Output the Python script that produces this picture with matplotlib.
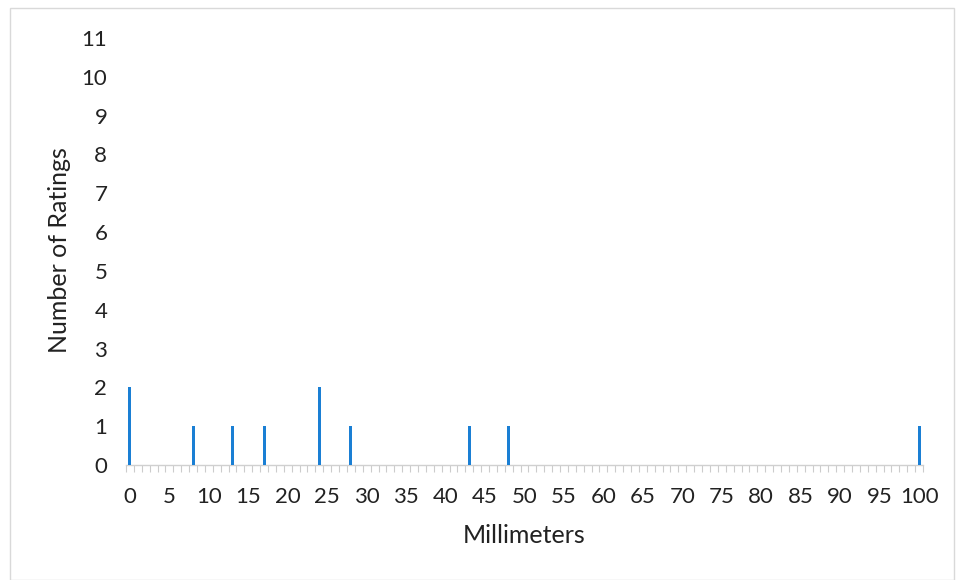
import matplotlib
matplotlib.use("Agg")
import matplotlib.pyplot as plt
from matplotlib.patches import Rectangle
import numpy as np

# Data
millimeters = [0, 8, 13, 17, 24, 28, 43, 48, 100]
ratings = [2, 1, 1, 1, 2, 1, 1, 1, 1]
x_tick_labels = [str(v) for v in range(0, 101, 5)]
y_tick_labels = [str(v) for v in range(0, 12)]

plt.rcParams['font.family'] = ['Lato', 'DejaVu Sans']

fig = plt.figure(figsize=(9.56, 5.8), dpi=100)
ax = fig.add_axes([126/956, 1-465/580, 797/956, 427/580])

ax.bar(millimeters, ratings, width=0.38, color='#1a7fd4', zorder=3)

ax.set_xlim(-0.5, 100.5)
ax.set_ylim(0, 11)

for s in ['top', 'right', 'left']:
    ax.spines[s].set_visible(False)
ax.spines['bottom'].set_color('#d0d0d0')
ax.spines['bottom'].set_linewidth(1.0)

ax.set_xticks(range(0, 101, 5))
ax.set_xticklabels(x_tick_labels, fontsize=16, color='#222222')
ax.set_xticks(np.arange(-0.5, 101, 1), minor=True)
ax.tick_params(axis='x', which='major', length=0, pad=16)
ax.tick_params(axis='x', which='minor', length=5, color='#cccccc', width=0.8)

ax.set_yticks(range(0, 12))
ax.set_yticklabels(y_tick_labels, fontsize=16, color='#222222')
ax.tick_params(axis='y', length=0, pad=13.5)

ax.set_xlabel('Millimeters', fontsize=18, color='#222222')
ax.xaxis.set_label_coords(0.5, -0.138)
ax.set_ylabel('Number of Ratings', fontsize=18, color='#222222')
ax.yaxis.set_label_coords(-0.069, 0.503)

# chart border
fig.patches.append(Rectangle((10/956, 0), 944/956, 1-8/580, transform=fig.transFigure,
                             fill=False, edgecolor='#d9d9d9', linewidth=1.0))

fig.savefig('out.png', dpi=100)
